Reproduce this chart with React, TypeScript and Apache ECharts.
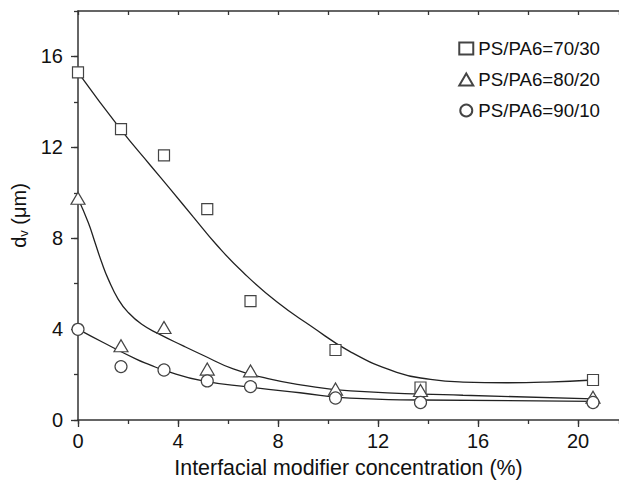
import React, { useEffect, useRef } from "react";
import * as echarts from "echarts";

// Measured points
const xVals = [0, 1.72, 3.44, 5.17, 6.9, 10.3, 13.7, 20.6];
const sq7030 = [15.3, 12.8, 11.65, 9.28, 5.23, 3.08, 1.43, 1.76];
const tri8020 = [9.76, 3.27, 4.07, 2.24, 2.16, 1.36, 1.3, 1.0];
const cir9010 = [3.99, 2.35, 2.2, 1.72, 1.47, 0.97, 0.77, 0.77];

// Fitted curves
const sqFitX = [0, 1.7, 2.9, 3.7, 4.6, 5.55, 6.6, 7.95, 9.3, 10.9, 12.75, 14.1, 15.4, 17.15, 18.75, 20.6];
const sqFitY = [15.3, 12.8, 11.2, 10.15, 8.95, 7.7, 6.5, 5.2, 4.15, 3.0, 2.1, 1.79, 1.67, 1.64, 1.67, 1.76];
const triFitX = [0, 0.41, 0.68, 0.95, 1.21, 1.61, 2.01, 2.55, 3.21, 4.21, 5.0, 6.21, 7.6, 8.9, 10.9, 15.4, 20.6];
const triFitY = [9.75, 8.69, 7.81, 6.93, 6.2, 5.31, 4.73, 4.21, 3.8, 3.26, 2.85, 2.25, 1.82, 1.55, 1.28, 1.09, 0.93];
const cirFitX = [0, 1.01, 2.35, 2.88, 3.41, 5.0, 6.88, 8.88, 10.88, 13.7, 20.6];
const cirFitY = [4.0, 3.41, 2.67, 2.43, 2.2, 1.72, 1.45, 1.2, 0.96, 0.88, 0.82];

const seriesNames = ["PS/PA6=70/30", "PS/PA6=80/20", "PS/PA6=90/10"];

const FONT = "Liberation Sans";
const AXIS_COLOR = "#333";
const MARK_COLOR = "#444";
const LINE_COLOR = "#222";

const zip = (xs: number[], ys: number[]) => xs.map((x, i) => [x, ys[i]]);

export default function App() {
  const ref = useRef<HTMLDivElement>(null);
  useEffect(() => {
    document.body.style.margin = "0";
    if (!ref.current) return;
    const chart = echarts.init(ref.current, null, { renderer: "svg" });
    const xMax = 21.64;
    const yMax = 18;
    const baseX = {
      type: "value",
      min: 0,
      max: xMax,
      gridIndex: 0,
      splitLine: { show: false },
    };
    const baseY = {
      type: "value",
      min: 0,
      max: yMax,
      splitLine: { show: false },
    };
    const markerStyle = {
      color: "#fff",
      borderColor: MARK_COLOR,
      borderWidth: 1.2,
      opacity: 1,
    };
    const fitSeries = (xs: number[], ys: number[]) => ({
      type: "line",
      data: zip(xs, ys),
      smooth: 0.5,
      showSymbol: false,
      symbol: "none",
      lineStyle: { color: LINE_COLOR, width: 1.3 },
      silent: true,
      z: 2,
    });
    chart.setOption({
      animation: false,
      textStyle: { fontFamily: FONT },
      grid: { left: 78, right: 0, top: 11, bottom: 62 },
      legend: {
        orient: "vertical",
        right: 14,
        top: 34,
        align: "left",
        itemWidth: 14,
        itemHeight: 12,
        itemGap: 12,
        data: seriesNames,
        textStyle: { fontFamily: FONT, fontSize: 18.7, color: "#111" },
      },
      xAxis: [
        {
          ...baseX,
          position: "bottom",
          interval: 4,
          axisLine: { show: true, lineStyle: { color: AXIS_COLOR, width: 1.5 } },
          axisTick: { show: true, inside: false, length: 7, lineStyle: { color: AXIS_COLOR, width: 1.3 } },
          axisLabel: { show: true, margin: 11, fontSize: 20, color: "#111", fontFamily: FONT, showMaxLabel: false },
          name: "Interfacial modifier concentration (%)",
          nameLocation: "middle",
          nameGap: 37,
          nameTextStyle: { fontSize: 21.4, color: "#111", fontFamily: FONT },
        },
        {
          ...baseX,
          position: "bottom",
          interval: 2,
          axisLine: { show: false },
          axisTick: { show: true, inside: false, length: 4, lineStyle: { color: AXIS_COLOR, width: 1.3 } },
          axisLabel: { show: false },
        },
        {
          ...baseX,
          position: "top",
          interval: 2,
          axisLine: { show: true, lineStyle: { color: AXIS_COLOR, width: 1.5 } },
          axisTick: { show: true, inside: true, length: 4, lineStyle: { color: AXIS_COLOR, width: 1.3 } },
          axisLabel: { show: false },
        },
      ],
      yAxis: [
        {
          ...baseY,
          position: "left",
          interval: 4,
          axisLine: { show: true, lineStyle: { color: AXIS_COLOR, width: 1.5 } },
          axisTick: { show: true, inside: false, length: 7, lineStyle: { color: AXIS_COLOR, width: 1.3 } },
          axisLabel: { show: true, margin: 15, fontSize: 20, color: "#111", fontFamily: FONT, showMaxLabel: false },
          name: "{d|d}{v|v}{d| (μm)}",
          nameLocation: "middle",
          nameRotate: 90,
          nameGap: 45,
          nameTextStyle: {
            fontFamily: FONT,
            color: "#111",
            rich: {
              d: { fontSize: 20, lineHeight: 22, fontFamily: FONT, color: "#111" },
              v: { fontSize: 13, lineHeight: 13, verticalAlign: "bottom", fontFamily: FONT, color: "#111" },
            },
          },
        },
        {
          ...baseY,
          position: "left",
          interval: 2,
          axisLine: { show: false },
          axisTick: { show: true, inside: false, length: 4, lineStyle: { color: AXIS_COLOR, width: 1.3 } },
          axisLabel: { show: false },
        },
      ],
      series: [
        fitSeries(sqFitX, sqFitY),
        fitSeries(triFitX, triFitY),
        fitSeries(cirFitX, cirFitY),
        {
          name: seriesNames[0],
          type: "scatter",
          data: zip(xVals, sq7030),
          symbol: "rect",
          symbolSize: 11,
          itemStyle: markerStyle,
          z: 5,
        },
        {
          name: seriesNames[1],
          type: "scatter",
          data: zip(xVals, tri8020),
          symbol: "triangle",
          symbolSize: [14, 12],
          itemStyle: markerStyle,
          z: 6,
        },
        {
          name: seriesNames[2],
          type: "scatter",
          data: zip(xVals, cir9010),
          symbol: "circle",
          symbolSize: 12,
          itemStyle: markerStyle,
          z: 7,
        },
      ],
    });
    return () => chart.dispose();
  }, []);
  return <div ref={ref} style={{ width: 619, height: 483 }} />;
}
